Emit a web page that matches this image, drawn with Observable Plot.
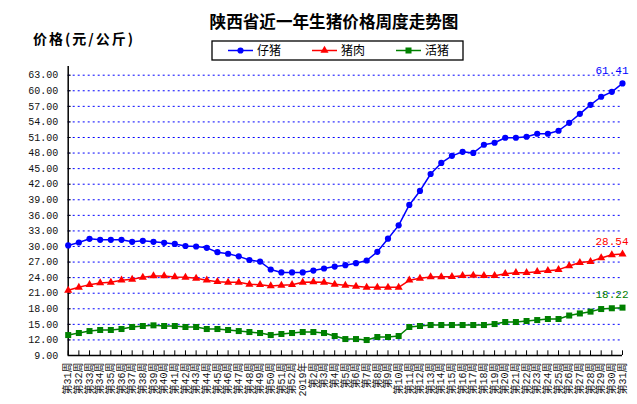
<!DOCTYPE html>
<html><head><meta charset="utf-8">
<script src="https://cdn.jsdelivr.net/npm/d3@7"></script>
<script src="https://cdn.jsdelivr.net/npm/@observablehq/plot@0.6"></script>
<style>
body{margin:0;background:#fff;}
#wrap{position:relative;width:637px;height:404px;overflow:hidden;background:#fff;}
#title{position:absolute;left:200px;width:268px;top:13px;text-align:center;font:bold 16.6px/1 "Noto Sans CJK SC",sans-serif;color:#000;}
#ylabel{position:absolute;left:33px;top:31px;font:bold 14px/1 "Noto Sans CJK SC",sans-serif;letter-spacing:2px;color:#000;}
#legend{position:absolute;left:211px;top:40px;}
#chart{position:absolute;left:0;top:0;}
</style></head><body>
<div id="wrap"><div id="chart"></div><div id="title"></div><div id="ylabel"></div><div id="legend"></div></div>
<script>
const chartTitle = "陕西省近一年生猪价格周度走势图";
const yLabel = "价格(元/公斤)";
const weeks = ["第31周","第32周","第33周","第34周","第35周","第36周","第37周","第38周","第39周","第40周",
  "第41周","第42周","第43周","第44周","第45周","第46周","第47周","第48周","第49周","第50周",
  "第51周","第52周","2019年","第2周","第3周","第4周","第5周","第6周","第7周","第8周",
  "第9周","第10周","第11周","第12周","第13周","第14周","第15周","第16周","第17周","第18周",
  "第19周","第20周","第21周","第22周","第23周","第24周","第25周","第26周","第27周","第28周",
  "第29周","第30周","第31周"];
const piglet = [30.2,30.77,31.48,31.29,31.29,31.29,30.9,31.1,30.9,30.7,
  30.5,30.1,30.0,29.74,28.9,28.6,28.1,27.4,27.1,25.57,
  25.0,25.0,25.0,25.37,25.76,26.14,26.4,26.79,27.3,28.97,
  31.5,34.07,38.0,40.7,43.97,46.1,47.46,48.23,48.03,49.6,
  49.99,50.95,50.95,51.14,51.72,51.72,52.3,53.83,55.56,57.29,
  58.85,59.8,61.41];
const pork = [21.56,22.14,22.65,22.97,23.1,23.49,23.68,24.06,24.32,24.32,
  24.13,24.06,23.87,23.49,23.23,23.1,23.1,22.71,22.65,22.39,
  22.52,22.65,23.1,23.16,23.1,22.71,22.52,22.33,22.14,22.14,
  22.14,22.14,23.49,23.87,24.13,24.16,24.19,24.38,24.45,24.38,
  24.38,24.77,24.96,24.96,25.15,25.35,25.54,26.24,26.9,27.1,
  27.8,28.4,28.54];
const livePig = [12.94,13.33,13.71,13.91,13.91,14.1,14.49,14.68,14.81,14.68,
  14.68,14.49,14.49,14.1,14.1,13.91,13.71,13.52,13.33,12.94,
  13.14,13.33,13.52,13.52,13.33,12.75,12.17,12.17,11.98,12.56,
  12.56,12.75,14.49,14.68,14.87,14.87,14.87,14.87,14.87,14.87,
  15.06,15.45,15.45,15.64,15.83,16.03,16.03,16.7,17.1,17.45,
  17.95,18.1,18.22];
const yTicks = [9,12,15,18,21,24,27,30,33,36,39,42,45,48,51,54,57,60,63];
const seriesNames = ["仔猪","猪肉","活猪"];
const seriesColors = ["#0000FF","#FF0000","#008000"];
const seriesSymbols = ["circle","triangle","square"];
const seriesR = [3.1,3.0,3.4];
const seriesValues = [piglet, pork, livePig];

const idx = d3.range(weeks.length);
const last = weeks.length - 1;
const rows = seriesNames.flatMap((name, s) => idx.map(i => ({i, name, s, value: seriesValues[s][i]})));

const monoFont = "'Liberation Mono','Noto Sans CJK SC',monospace";

const marks = [
  Plot.ruleY(yTicks.slice(1), {x1: 0, x2: last, stroke: "#0000FF", strokeWidth: 1, strokeDasharray: "2,3"}),
  Plot.axisY({ticks: yTicks, tickFormat: d => d.toFixed(2), tickSize: 0, tickPadding: 10, fontSize: 10, fill: "#111", label: null}),
  Plot.ruleY(yTicks, {x1: 0, x2: 0.28, stroke: "#000"}),
  Plot.ruleX(idx, {x: d => d, y1: 9, y2: 9.9, stroke: "#000"}),
  Plot.axisX({ticks: idx, tickFormat: i => weeks[i], tickRotate: -90, tickSize: 0, tickPadding: 7, fontSize: 10, fill: "#111", label: null}),
  Plot.ruleX([0], {y1: 9, y2: 64.7, stroke: "#000", strokeWidth: 1.5}),
  Plot.ruleY([9], {x1: 0, x2: last, stroke: "#000", strokeWidth: 1.5})
];
seriesNames.forEach((name, s) => {
  const data = rows.filter(d => d.s === s);
  marks.push(Plot.line(data, {x: "i", y: "value", stroke: seriesColors[s], strokeWidth: 1.5}));
  marks.push(Plot.dot(data, {x: "i", y: "value", symbol: seriesSymbols[s], r: seriesR[s], fill: seriesColors[s], stroke: "none"}));
  marks.push(Plot.text(data.filter(d => d.i === last), {x: "i", y: "value", text: d => d.value.toFixed(2), textAnchor: "end", dx: 6, dy: -13, fill: seriesColors[s], fontSize: 11}));
});

const chart = Plot.plot({
  width: 637, height: 404,
  marginLeft: 67.7, marginRight: 15, marginTop: 74.7, marginBottom: 49,
  x: {type: "linear", domain: [0, last], label: null},
  y: {domain: [9, 63], label: null},
  style: {background: "white", fontFamily: monoFont, fontSize: "10px", overflow: "visible"},
  marks
});
document.getElementById("chart").appendChild(chart);
document.getElementById("title").textContent = chartTitle;
document.getElementById("ylabel").textContent = yLabel;

// legend
const lw = 251, lh = 19;
const leg = d3.select("#legend").append("svg").attr("width", lw + 2).attr("height", lh + 2);
leg.append("rect").attr("x", 1).attr("y", 1).attr("width", lw).attr("height", lh)
  .attr("fill", "white").attr("stroke", "#000").attr("stroke-width", 1.3);
seriesNames.forEach((name, s) => {
  const x0 = 17 + 84 * s, cy = 10.5;
  const g = leg.append("g");
  g.append("line").attr("x1", x0).attr("x2", x0 + 25).attr("y1", cy).attr("y2", cy)
    .attr("stroke", seriesColors[s]).attr("stroke-width", 1.5);
  const sym = {circle: d3.symbolCircle, triangle: d3.symbolTriangle, square: d3.symbolSquare}[seriesSymbols[s]];
  g.append("path").attr("d", d3.symbol(sym, Math.PI * seriesR[s] * seriesR[s])())
    .attr("transform", `translate(${x0 + 12.5},${cy})`).attr("fill", seriesColors[s]);
  g.append("text").attr("x", x0 + 29).attr("y", cy).attr("dy", "0.36em")
    .attr("font-family", "'Noto Sans CJK SC',sans-serif").attr("font-size", 12).attr("fill", "#000")
    .text(name);
});
</script>
</body></html>
